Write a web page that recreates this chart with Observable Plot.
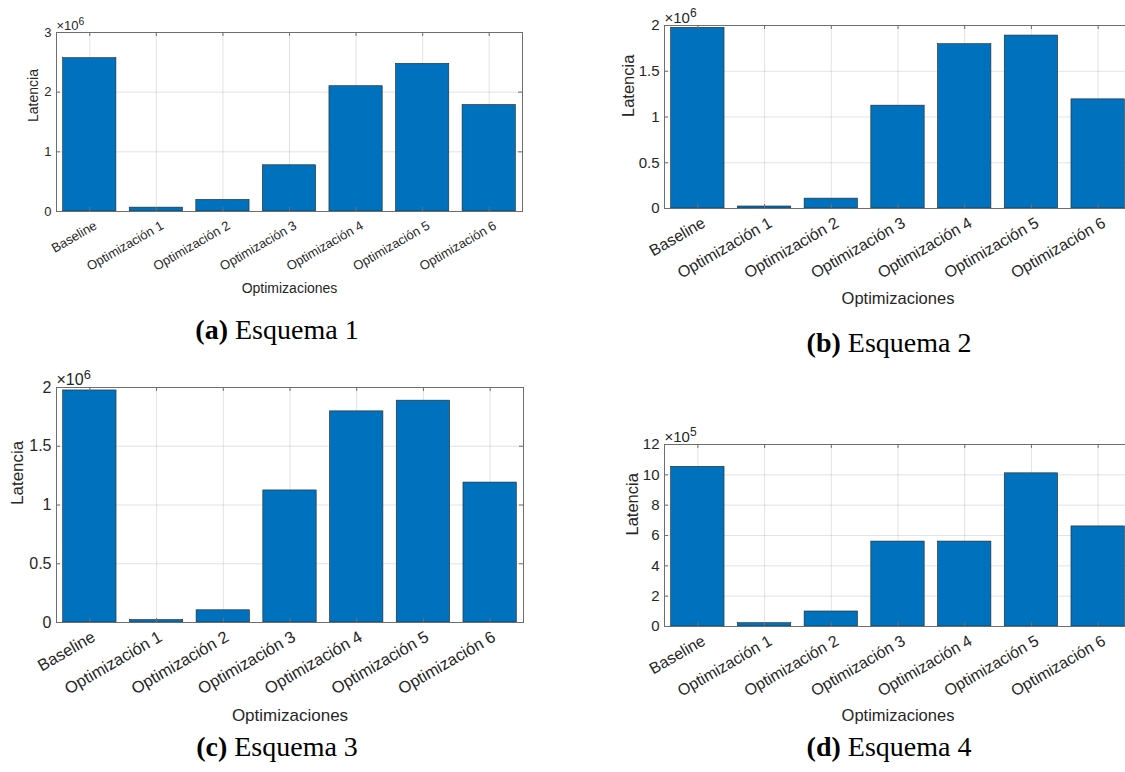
<!DOCTYPE html>
<html>
<head>
<meta charset="utf-8">
<script src="https://cdn.jsdelivr.net/npm/d3@7"></script>
<script src="https://cdn.jsdelivr.net/npm/@observablehq/plot@0.6"></script>
<style>
  html, body { margin: 0; padding: 0; background: #fff; }
  #fig { position: relative; width: 1125px; height: 772px; overflow: hidden; background: #fff; }
  .panel { position: absolute; }
  .panel svg { max-width: none !important; display: block; }
  .cap { position: absolute; transform: translate(-50%, -50%); white-space: nowrap;
         font-family: "Liberation Serif", "Times New Roman", serif; font-size: 28px; color: #000; }
</style>
</head>
<body>
<div id="fig"></div>
<script>
// ---------------- data ----------------
const categories = ["Baseline", "Optimización 1", "Optimización 2", "Optimización 3",
                    "Optimización 4", "Optimización 5", "Optimización 6"];
const esquema1 = [2.57e6, 0.065e6, 0.195e6, 0.775e6, 2.10e6, 2.475e6, 1.785e6];
const esquema2 = [1.975e6, 0.022e6, 0.108e6, 1.124e6, 1.796e6, 1.89e6, 1.193e6];
const esquema3 = [1.975e6, 0.021e6, 0.104e6, 1.124e6, 1.797e6, 1.888e6, 1.191e6];
const esquema4 = [10.53e5, 0.22e5, 0.99e5, 5.6e5, 5.6e5, 10.1e5, 6.6e5];
const ticks1 = [0, 1e6, 2e6, 3e6];
const ticks2 = [0, 0.5e6, 1e6, 1.5e6, 2e6];
const ticks3 = [0, 0.5e6, 1e6, 1.5e6, 2e6];
const ticks4 = [0, 2e5, 4e5, 6e5, 8e5, 10e5, 12e5];
const exponents = ["6", "6", "6", "5"];
const expBase = "×10";
const yLabel = "Latencia";
const xLabel = "Optimizaciones";
const captions = [["(a)", " Esquema 1"], ["(b)", " Esquema 2"], ["(c)", " Esquema 3"], ["(d)", " Esquema 4"]];

// ---------------- layout (styles only) ----------------
const layouts = [
  {left: 0,   top: 0,   width: 560, height: 310, fL: 56,  fR: 522,  fT: 32,  fB: 211, fs: 13,   xfs: 13,   ls: 14,   xdx: 6, xDy: 84,  yDx: -23, capX: 277, capY: 330},
  {left: 560, top: 0,   width: 600, height: 320, fL: 664, fR: 1131, fT: 25,  fB: 208, fs: 15,   xfs: 16,   ls: 16.5, xdx: 6, xDy: 97,  yDx: -36, capX: 889, capY: 343},
  {left: 0,   top: 360, width: 560, height: 380, fL: 56,  fR: 523,  fT: 387, fB: 622, fs: 16,   xfs: 16.5, ls: 17,   xdx: 4, xDy: 100, yDx: -39, capX: 277, capY: 747},
  {left: 560, top: 400, width: 600, height: 340, fL: 664, fR: 1131, fT: 444, fB: 626, fs: 15,   xfs: 16,   ls: 16.5, xdx: 6, xDy: 96,  yDx: -32, capX: 889, capY: 747}
];

const positions = categories.map((c, i) => i + 1);
const axisColor = "#6e6e6e";

function makePanel(L, values, yTicks, divisor, exponent) {
  const data = categories.map((c, i) => ({pos: i + 1, cat: c, v: values[i]}));
  const mL = L.fL - L.left, mR = L.left + L.width - L.fR;
  const mT = L.fT - L.top, mB = L.top + L.height - L.fB;
  const ph = L.fB - L.fT, pw = L.fR - L.fL;
  const tl = 4;
  const svg = Plot.plot({
    width: L.width, height: L.height,
    marginLeft: mL, marginRight: mR, marginTop: mT, marginBottom: mB,
    style: {fontFamily: "'Liberation Sans', Arial, Helvetica, sans-serif", fontSize: L.fs + "px",
            color: "#262626", background: "transparent", overflow: "visible"},
    x: {type: "linear", domain: [0.5, categories.length + 0.5]},
    y: {domain: [0, yTicks[yTicks.length - 1]]},
    marks: [
      Plot.gridX(positions, {stroke: "#262626", strokeOpacity: 0.13}),
      Plot.gridY(yTicks, {stroke: "#262626", strokeOpacity: 0.13}),
      Plot.rectY(data, {x1: d => d.pos - 0.4, x2: d => d.pos + 0.4, y: "v",
                        fill: "#0072BD", stroke: "#262626", strokeWidth: 0.6}),
      Plot.ruleX(positions, {insetTop: ph - tl, stroke: axisColor}),
      Plot.ruleX(positions, {insetBottom: ph - tl, stroke: axisColor}),
      Plot.ruleY(yTicks, {insetRight: pw - tl, stroke: axisColor}),
      Plot.ruleY(yTicks, {insetLeft: pw - tl, stroke: axisColor}),
      Plot.frame({stroke: axisColor}),
      Plot.axisX(positions, {tickSize: 0, tickPadding: 13, tickRotate: -30, dx: L.xdx,
                             tickFormat: p => categories[p - 1], label: null, fontSize: L.xfs}),
      Plot.axisY(yTicks, {tickSize: 0, tickPadding: 5, tickFormat: d => d / divisor,
                          label: null, fontSize: L.fs}),
      Plot.text([expBase + exponent], {frameAnchor: "top-left", textAnchor: "start", lineAnchor: "bottom",
                            dy: -3, fontSize: L.fs}),
      Plot.text([yLabel], {frameAnchor: "left", rotate: -90, dx: L.yDx, fontSize: L.ls}),
      Plot.text([xLabel], {frameAnchor: "bottom", lineAnchor: "middle", dy: L.xDy - 7, fontSize: L.ls})
    ]
  });
  // turn the exponent into a real superscript
  d3.select(svg).selectAll("text")
    .filter(function () { return this.textContent === expBase + exponent; })
    .each(function () {
      const t = d3.select(this);
      t.text(expBase);
      t.append("tspan").attr("dy", "-0.45em").attr("font-size", "0.8em").text(exponent);
    });
  return svg;
}

const fig = document.getElementById("fig");
const specs = [
  [esquema1, ticks1, 1e6],
  [esquema2, ticks2, 1e6],
  [esquema3, ticks3, 1e6],
  [esquema4, ticks4, 1e5]
];
specs.forEach(([vals, tks, div], k) => {
  const L = layouts[k];
  const wrap = document.createElement("div");
  wrap.className = "panel";
  wrap.style.left = L.left + "px";
  wrap.style.top = L.top + "px";
  wrap.style.width = L.width + "px";
  wrap.style.height = L.height + "px";
  wrap.appendChild(makePanel(L, vals, tks, div, exponents[k]));
  fig.appendChild(wrap);
  const cap = document.createElement("div");
  cap.className = "cap";
  cap.style.left = L.capX + "px";
  cap.style.top = L.capY + "px";
  const b = document.createElement("b");
  b.textContent = captions[k][0];
  cap.appendChild(b);
  cap.appendChild(document.createTextNode(captions[k][1]));
  fig.appendChild(cap);
});
</script>
</body>
</html>
